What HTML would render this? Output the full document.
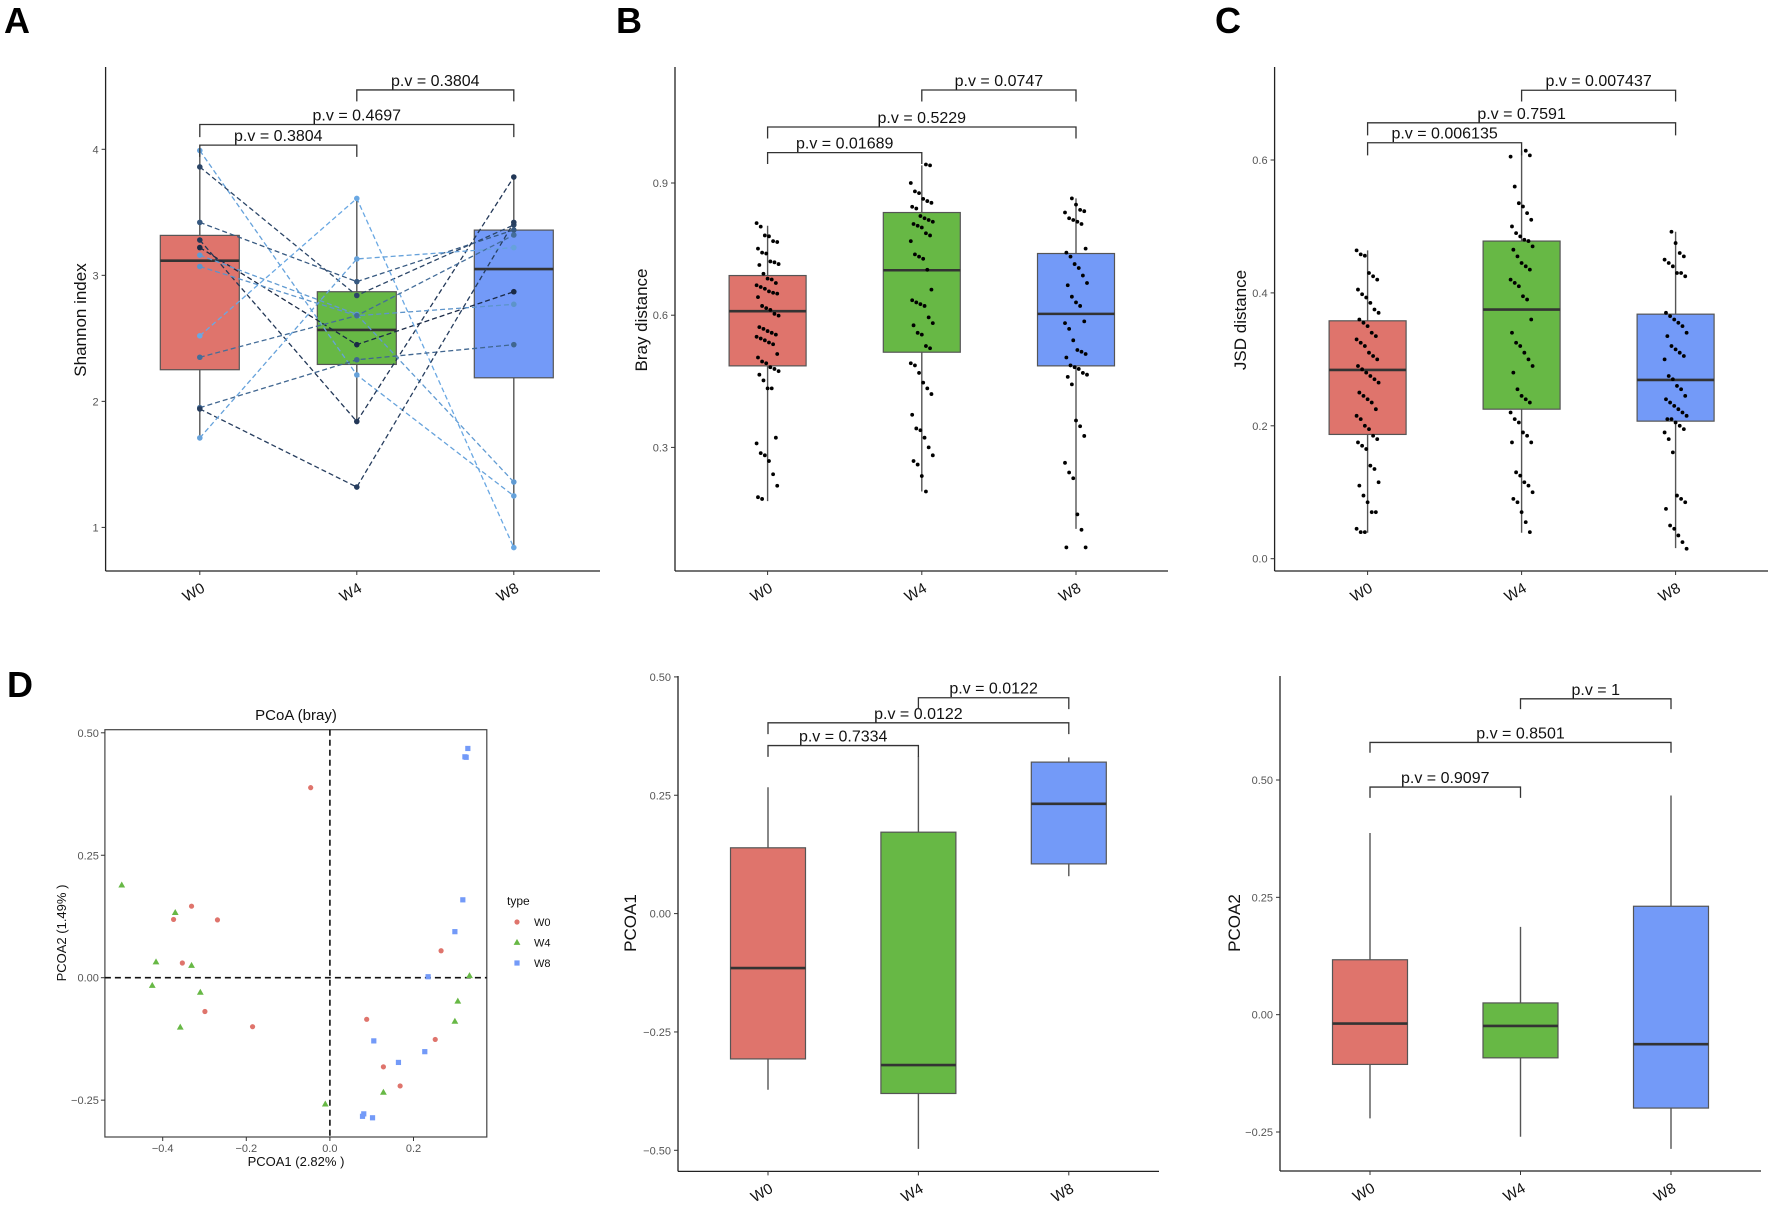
<!DOCTYPE html>
<html><head><meta charset="utf-8"><style>
body{margin:0;background:#fff}
svg text{font-family:"Liberation Sans",Arial,sans-serif}
</style></head><body>
<svg id="fig" width="1772" height="1210" viewBox="0 0 1772 1210" xmlns="http://www.w3.org/2000/svg">
<text x="4" y="33" font-size="36" font-weight="bold">A</text>
<text x="616" y="33" font-size="36" font-weight="bold">B</text>
<text x="1215" y="33" font-size="36" font-weight="bold">C</text>
<text x="7" y="697" font-size="36" font-weight="bold">D</text>
</svg>
<script>
// ---------- data ----------
const groups = ["W0","W4","W8"];
// Panel A (Shannon) box stats [low, q1, median, q3, high]
const aStats = [[1.713,2.251,3.116,3.317,4.0],[1.838,2.293,2.567,2.870,3.611],[0.836,2.187,3.050,3.359,3.781]];
const aW0 = [3.99,3.86,3.42,3.28,3.22,3.16,3.07,2.52,2.35,1.95,1.94,1.71];
const aW4 = [2.21,2.84,2.95,1.84,2.45,2.69,2.68,3.61,2.68,2.33,1.32,3.13];
const aW8 = [1.25,3.40,3.36,3.78,2.87,1.36,2.77,0.84,3.32,2.45,3.42,3.22];
const aShade = [0.9,0.2,0.35,0.1,0.0,0.85,0.8,0.95,0.5,0.45,0.15,0.9];
const aTicks = [1,2,3,4];
const aPv = ["p.v = 0.3804","p.v = 0.4697","p.v = 0.3804"];
const aBr = [[4.033,3.94],[4.197,4.097],[4.471,4.38]];
// Panel B (Bray)
const bStats = [[0.178,0.485,0.609,0.690,0.803],[0.200,0.516,0.702,0.833,0.940],[0.115,0.485,0.603,0.740,0.865]];
const bW0 = [0.809,0.801,0.781,0.779,0.768,0.766,0.751,0.742,0.740,0.722,0.720,0.716,0.714,0.694,0.683,0.681,0.673,0.668,0.664,0.660,0.654,0.651,0.649,0.641,0.621,0.616,0.612,0.603,0.599,0.573,0.569,0.564,0.560,0.556,0.551,0.547,0.543,0.538,0.534,0.512,0.504,0.495,0.491,0.482,0.478,0.473,0.465,0.452,0.434,0.434,0.322,0.309,0.287,0.282,0.269,0.239,0.213,0.187,0.183];
const bW4 = [0.942,0.940,0.900,0.881,0.877,0.864,0.859,0.855,0.846,0.842,0.825,0.820,0.816,0.812,0.807,0.803,0.799,0.786,0.781,0.768,0.738,0.733,0.728,0.703,0.658,0.634,0.629,0.625,0.621,0.595,0.582,0.577,0.560,0.556,0.530,0.525,0.491,0.486,0.469,0.447,0.434,0.421,0.374,0.343,0.339,0.322,0.300,0.282,0.269,0.261,0.235,0.200];
const bW8 = [0.865,0.851,0.839,0.836,0.833,0.820,0.816,0.812,0.807,0.751,0.742,0.733,0.716,0.707,0.690,0.673,0.668,0.642,0.629,0.621,0.586,0.582,0.569,0.543,0.521,0.517,0.512,0.504,0.486,0.482,0.478,0.469,0.465,0.460,0.443,0.361,0.348,0.326,0.265,0.243,0.230,0.148,0.113,0.073,0.073];
const bTicks = [0.3,0.6,0.9];
const bPv = ["p.v = 0.01689","p.v = 0.5229","p.v = 0.0747"];
const bBr = [[0.969,0.943],[1.027,1.001],[1.111,1.085]];
// Panel C (JSD)
const cStats = [[0.039,0.187,0.284,0.358,0.464],[0.039,0.225,0.375,0.478,0.614],[0.016,0.207,0.269,0.368,0.492]];
const cW0 = [0.464,0.458,0.456,0.43,0.425,0.42,0.405,0.398,0.393,0.385,0.375,0.37,0.36,0.355,0.35,0.34,0.335,0.33,0.325,0.32,0.31,0.305,0.3,0.29,0.285,0.28,0.275,0.27,0.265,0.25,0.245,0.24,0.235,0.225,0.215,0.21,0.2,0.195,0.185,0.18,0.175,0.17,0.165,0.14,0.135,0.115,0.11,0.095,0.085,0.07,0.07,0.045,0.04,0.04];
const cW4 = [0.614,0.607,0.605,0.56,0.535,0.53,0.52,0.51,0.5,0.49,0.485,0.48,0.478,0.47,0.465,0.455,0.445,0.44,0.435,0.42,0.415,0.41,0.395,0.39,0.36,0.34,0.325,0.32,0.31,0.3,0.29,0.28,0.255,0.245,0.24,0.235,0.22,0.21,0.205,0.19,0.185,0.175,0.175,0.13,0.125,0.115,0.11,0.1,0.09,0.085,0.07,0.055,0.04];
const cW8 = [0.492,0.475,0.46,0.455,0.45,0.445,0.44,0.43,0.43,0.425,0.37,0.365,0.36,0.355,0.35,0.34,0.335,0.32,0.315,0.31,0.305,0.3,0.275,0.27,0.26,0.255,0.245,0.24,0.235,0.23,0.225,0.22,0.215,0.21,0.21,0.205,0.2,0.195,0.19,0.18,0.16,0.095,0.09,0.085,0.075,0.05,0.045,0.035,0.025,0.015];
const cTicks = [0.0,0.2,0.4,0.6];
const cPv = ["p.v = 0.006135","p.v = 0.7591","p.v = 0.007437"];
const cBr = [[0.626,0.607],[0.656,0.637],[0.705,0.688]];
// Panel D (PCoA scatter)
const dW0x = [-0.046,-0.374,-0.331,-0.269,-0.353,-0.299,-0.185,0.088,0.266,0.252,0.128,0.168];
const dW0y = [0.388,0.119,0.146,0.118,0.030,-0.069,-0.100,-0.085,0.055,-0.126,-0.182,-0.221];
const dW4x = [-0.498,-0.370,-0.416,-0.331,-0.425,-0.310,-0.358,-0.011,0.128,0.334,0.306,0.299];
const dW4y = [0.189,0.133,0.032,0.025,-0.016,-0.030,-0.101,-0.258,-0.234,0.004,-0.048,-0.089];
const dW8x = [0.330,0.323,0.326,0.318,0.299,0.235,0.105,0.227,0.164,0.081,0.078,0.102];
const dW8y = [0.468,0.451,0.450,0.159,0.094,0.002,-0.129,-0.151,-0.173,-0.278,-0.283,-0.286];
const dXTicks = [-0.4,-0.2,0.0,0.2];
const dYTicks = [-0.25,0.0,0.25,0.5];
// Panel E (PCOA1)
const eStats = [[-0.372,-0.307,-0.115,0.139,0.267],[-0.497,-0.380,-0.320,0.172,0.332],[0.079,0.105,0.232,0.320,0.330]];
const eTicks = [-0.5,-0.25,0,0.25,0.5];
const ePv = ["p.v = 0.7334","p.v = 0.0122","p.v = 0.0122"];
const eBr = [[0.355,0.331],[0.403,0.379],[0.456,0.432]];
// Panel F (PCOA2)
const fStats = [[-0.221,-0.106,-0.019,0.117,0.387],[-0.260,-0.092,-0.024,0.025,0.187],[-0.286,-0.199,-0.063,0.231,0.467]];
const fTicks = [-0.25,0,0.25,0.5];
const fPv = ["p.v = 0.9097","p.v = 0.8501","p.v = 1"];
const fBr = [[0.485,0.462],[0.580,0.558],[0.673,0.651]];

const fills = ["#DF746C","#67B845","#739AF8"];
const NS="http://www.w3.org/2000/svg";
const svg=document.getElementById('fig');
function el(tag,attrs,parent){const e=document.createElementNS(NS,tag);for(const k in attrs)e.setAttribute(k,attrs[k]);(parent||svg).appendChild(e);return e;}
function lin(d0,p0,d1,p1){return v=>p0+(v-d0)*(p1-p0)/(d1-d0);}
function fmt(v,dec){return (v<0?"\u2212":"")+Math.abs(v).toFixed(dec);}

function axes(g,cfg,y,ticks,dec,name){
  const l1=el('line',{x1:cfg.ax,y1:cfg.top,x2:cfg.ax,y2:cfg.bot,stroke:'#222','stroke-width':1.3},g);
  
  
  const l2=el('line',{x1:cfg.ax,y1:cfg.bot,x2:cfg.right,y2:cfg.bot,stroke:'#222','stroke-width':1.3},g);
  
  
  ticks.forEach(t=>{
    el('line',{x1:cfg.ax-4,y1:y(t),x2:cfg.ax,y2:y(t),stroke:'#333','stroke-width':1},g);
    const tx=el('text',{x:cfg.ax-7,y:y(t)+4,'text-anchor':'end','font-size':11,fill:'#555'},g);
    tx.textContent=fmt(t,dec);
    
    
  });
  groups.forEach((gname,i)=>{
    const x=cfg.x0+i*cfg.step;
    el('line',{x1:x,y1:cfg.bot,x2:x,y2:cfg.bot+4,stroke:'#333','stroke-width':1},g);
    const tx=el('text',{x:x+6,y:cfg.bot+20,'text-anchor':'end','font-size':15,fill:'#111',transform:`rotate(-30 ${x+6} ${cfg.bot+20})`},g);
    tx.textContent=gname;
    
    
  });
  const yt=el('text',{x:cfg.tx,y:cfg.ty,'text-anchor':'middle','font-size':17,fill:'#111',transform:`rotate(-90 ${cfg.tx} ${cfg.ty})`},g);
  yt.textContent=cfg.title;
  
  
}
function boxes(g,cfg,y,stats,bw,name){
  stats.forEach((s,i)=>{
    const x=cfg.x0+i*cfg.step;
    const w=el('line',{x1:x,y1:y(s[0]),x2:x,y2:y(s[4]),stroke:'#555','stroke-width':1.4},g);
    
    
    const r=el('rect',{x:x-bw/2,y:y(s[3]),width:bw,height:y(s[1])-y(s[3]),fill:fills[i],stroke:'#555','stroke-width':1.2},g);
    
    
    const m=el('line',{x1:x-bw/2,y1:y(s[2]),x2:x+bw/2,y2:y(s[2]),stroke:'#333','stroke-width':2.6},g);
    
    
  });
}
function brackets(g,cfg,y,br,pv,name){
  const pairs=[[0,1],[0,2],[1,2]];
  pairs.forEach((p,k)=>{
    const xa=cfg.x0+p[0]*cfg.step,xb=cfg.x0+p[1]*cfg.step;
    const yh=y(br[k][0]),yl=y(br[k][1]);
    const pl=el('polyline',{points:`${xa},${yl} ${xa},${yh} ${xb},${yh} ${xb},${yl}`,fill:'none',stroke:'#333','stroke-width':1.3},g);
    
    
    const t=el('text',{x:(xa+xb)/2,y:yh-4,'text-anchor':'middle','font-size':16,fill:'#111'},g);
    t.textContent=pv[k];
    
    
  });
}
function jitter(g,cfg,y,arrs,name){
  arrs.forEach((arr,i)=>{
    const x=cfg.x0+i*cfg.step;
    arr.forEach((v,j)=>{
      const off=(((j*37+i*11)%17)/16-0.5)*22;
      const c=el('circle',{cx:x+off,cy:y(v),r:1.9,fill:'#000'},g);
      
      
    });
  });
}
function panel(name){const g=el('g',{});return g;}

// ----- A -----
(function(){
  const g=panel('panel-a-shannon');
  const cfg={ax:105.6,top:67,bot:571,right:600,x0:199.8,step:157,tx:86,ty:320,title:'Shannon index'};
  const y=lin(1,527.4,4,149.3);
  axes(g,cfg,y,aTicks,0,'a');
  boxes(g,cfg,y,aStats,79,'a');
  function col(s){const a=[26,42,70],b=[110,175,235];return `rgb(${a.map((v,k)=>Math.round(v+(b[k]-v)*s)).join(',')})`;}
  aW0.forEach((v,k)=>{
    const c=col(aShade[k]);
    const pts=[aW0[k],aW4[k],aW8[k]].map((vv,i)=>`${cfg.x0+i*cfg.step},${y(vv)}`).join(' ');
    const pl=el('polyline',{points:pts,fill:'none',stroke:c,'stroke-width':1.3,'stroke-dasharray':'5,3'},g);
    
    
  });
  aW0.forEach((v,k)=>{
    const c=col(aShade[k]);
    [aW0[k],aW4[k],aW8[k]].forEach((vv,i)=>{
      const p=el('circle',{cx:cfg.x0+i*cfg.step,cy:y(vv),r:2.8,fill:c},g);
      
      
    });
  });
  brackets(g,cfg,y,aBr,aPv,'a');
})();
// ----- B -----
(function(){
  const g=panel('panel-b-bray');
  const cfg={ax:675,top:67,bot:571,right:1168,x0:767.6,step:154.2,tx:647,ty:320,title:'Bray distance'};
  const y=lin(0.3,447.4,0.9,183);
  axes(g,cfg,y,bTicks,1,'b');
  boxes(g,cfg,y,bStats,77,'b');
  jitter(g,cfg,y,[bW0,bW4,bW8],'b');
  brackets(g,cfg,y,bBr,bPv,'b');
})();
// ----- C -----
(function(){
  const g=panel('panel-c-jsd');
  const cfg={ax:1274.6,top:67,bot:571,right:1768,x0:1367.6,step:154,tx:1246,ty:320,title:'JSD distance'};
  const y=lin(0,558.7,0.6,160);
  axes(g,cfg,y,cTicks,1,'c');
  boxes(g,cfg,y,cStats,77,'c');
  jitter(g,cfg,y,[cW0,cW4,cW8],'c');
  brackets(g,cfg,y,cBr,cPv,'c');
})();
// ----- D -----
(function(){
  const g=panel('panel-d-pcoa');
  const L=104.9,R=486.8,T=729.7,B=1137;
  const x=lin(0,329.9,0.2,413.5);
  const y=lin(0,977.7,0.5,732.8);
  const fr=el('rect',{x:L,y:T,width:R-L,height:B-T,fill:'none',stroke:'#444','stroke-width':1.2},g);
  
  
  el('line',{x1:x(0),y1:T,x2:x(0),y2:B,stroke:'#111','stroke-width':1.6,'stroke-dasharray':'6,4'},g);
  el('line',{x1:L,y1:y(0),x2:R,y2:y(0),stroke:'#111','stroke-width':1.6,'stroke-dasharray':'6,4'},g);
  dXTicks.forEach(t=>{
    el('line',{x1:x(t),y1:B,x2:x(t),y2:B+4,stroke:'#333'},g);
    const tx=el('text',{x:x(t),y:B+15,'text-anchor':'middle','font-size':11,fill:'#555'},g);
    tx.textContent=fmt(t,1);
    
    
  });
  dYTicks.forEach(t=>{
    el('line',{x1:L-4,y1:y(t),x2:L,y2:y(t),stroke:'#333'},g);
    const tx=el('text',{x:L-6,y:y(t)+4,'text-anchor':'end','font-size':11,fill:'#555'},g);
    tx.textContent=fmt(t,2);
    
    
  });
  const ti=el('text',{x:296,y:720,'text-anchor':'middle','font-size':15,fill:'#111'},g);ti.textContent='PCoA (bray)';
  
  
  const xt=el('text',{x:296,y:1166,'text-anchor':'middle','font-size':13,fill:'#111'},g);xt.textContent='PCOA1 (2.82% )';
  
  
  const yt=el('text',{x:66,y:933,'text-anchor':'middle','font-size':13,fill:'#111',transform:'rotate(-90 66 933)'},g);yt.textContent='PCOA2 (1.49% )';
  
  
  function mark(i,cx,cy,parent){
    let m;
    if(i===0) m=el('circle',{cx:cx,cy:cy,r:2.6,fill:fills[0]},parent);
    else if(i===1) m=el('polygon',{points:`${cx},${cy-3.6} ${cx-3.4},${cy+2.4} ${cx+3.4},${cy+2.4}`,fill:fills[1]},parent);
    else m=el('rect',{x:cx-2.6,y:cy-2.6,width:5.2,height:5.2,fill:fills[2]},parent);
    return m;
  }
  [[dW0x,dW0y],[dW4x,dW4y],[dW8x,dW8y]].forEach((s,i)=>{
    s[0].forEach((vx,k)=>{
      const m=mark(i,x(vx),y(s[1][k]),g);
      
      
    });
  });
  const lg=el('text',{x:507,y:905,'font-size':12,fill:'#111'},g);lg.textContent='type';
  
  
  groups.forEach((gn,i)=>{
    const yy=922+i*20.5;
    const m=mark(i,517,yy,g);
    
    
    const t=el('text',{x:534,y:yy+4,'font-size':11,fill:'#111'},g);t.textContent=gn;
    
    
  });
})();
// ----- E -----
(function(){
  const g=panel('panel-e-pcoa1');
  const cfg={ax:678,top:676,bot:1171.4,right:1159,x0:768,step:150.4,tx:636,ty:923,title:'PCOA1'};
  const y=lin(-0.5,1150.3,0.5,676.9);
  axes(g,cfg,y,eTicks,2,'e');
  boxes(g,cfg,y,eStats,75,'e');
  brackets(g,cfg,y,eBr,ePv,'e');
})();
// ----- F -----
(function(){
  const g=panel('panel-f-pcoa2');
  const cfg={ax:1280,top:676,bot:1171,right:1761,x0:1370,step:150.5,tx:1240,ty:923,title:'PCOA2'};
  const y=lin(-0.25,1132,0.5,780);
  axes(g,cfg,y,fTicks,2,'f');
  boxes(g,cfg,y,fStats,75,'f');
  brackets(g,cfg,y,fBr,fPv,'f');
})();
</script>
</body></html>
